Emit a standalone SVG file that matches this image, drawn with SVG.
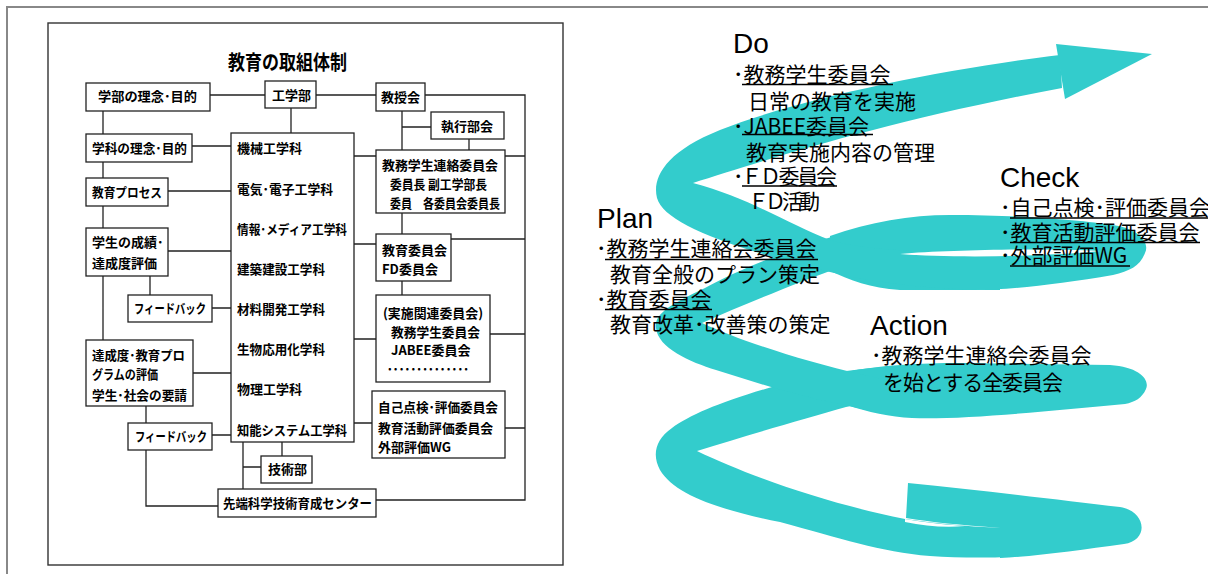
<svg xmlns="http://www.w3.org/2000/svg" width="1208" height="574" viewBox="0 0 1208 574">
<style>
.box{fill:#fff;stroke:#222;stroke-width:1.3}
.ln{fill:none;stroke:#222;stroke-width:1.3}
.t{font-family:"Noto Sans CJK JP","Noto Sans CJK SC",sans-serif;font-weight:700;font-size:13px;fill:#000}
.ti{font-family:"Noto Sans CJK JP","Noto Sans CJK SC",sans-serif;font-weight:700;font-size:20px;fill:#000}
.rt{font-family:"Noto Sans CJK JP","Noto Sans CJK SC",sans-serif;font-size:21px;fill:#000}
.hd{font-family:"Liberation Sans",Arial,sans-serif;font-size:28px;fill:#000}
.sp{fill:#33CCCC}
.ul{stroke:#000;stroke-width:1.7}
</style>
<rect width="1208" height="574" fill="#fff"/>
<path d="M7,574 V7 H1208" fill="none" stroke="#888" stroke-width="2"/>
<rect x="48" y="23" width="515" height="542" fill="none" stroke="#333" stroke-width="1.4"/>

<!-- spiral -->
<g id="spiral">
<path class="sp" d="M980,363 C880,364 820,372 772,387 C720,402 690,415 672,428 C655,440 652,455 660,470 C675,495 720,510 780,522 C840,538 880,552 930,556 C960,558 1000,558 1020,556 L1020,528 C980,528 940,524 905,519 C820,502 745,474 697,451 C745,436 800,420 846,407 C880,400 930,396 980,395 Z"/>
<path class="sp" d="M908,483 C980,490 1060,500 1120,507 C1146,511 1150,540 1124,544 C1080,550 1040,556 1000,558 L1000,528 C960,525 930,522 906,518 Z"/>
<path class="sp" d="M846,372 C880,365 920,363 960,363 L1110,365 C1140,367 1150,380 1146,389 C1142,398 1135,402 1125,404 C1050,411 960,420 912,418 C890,417 868,412 846,405 Z"/>
<path class="sp" d="M900,220 C850,228 760,258 705,288 C668,305 654,315 656,328 C658,348 690,362 716,370 C760,384 805,398 846,405 C870,411 890,418 960,415 L960,390 C880,385 760,350 702,323 C745,304 800,282 830,271 C860,262 880,256 900,255 Z"/>
<path class="sp" d="M830,236 C870,222 910,215 950,215 C1020,215 1080,220 1113,225 C1140,229 1150,243 1145,253 C1140,266 1130,271 1113,275 C1060,284 1010,290 975,290 L900,290 C870,288 850,280 830,271 Z"/>
<path class="sp" d="M1060,55 C950,68 800,98 720,130 C665,152 652,178 657,198 C664,222 720,245 830,272 C870,282 930,290 1000,290 L1000,253 C930,253 860,250 830,240 C790,225 750,198 693,183 C760,162 880,122 1062,88 Z"/>
<path class="sp" d="M1056,44 L1152,54 L1065,99 Z"/>
<path fill="#fff" d="M900,254 C950,250 1040,248 1100,251 C1040,257 950,258 900,254 Z"/>
<path fill="#fff" d="M905,519 C930,523 950,525 965,526 C945,528 925,526 905,522 Z"/>
</g>

<!-- PDCA texts -->
<g id="do">
<text class="hd" x="733" y="53">Do</text>
<text class="rt" x="733" y="82">･教務学生委員会</text>
<line class="ul" x1="742" y1="84.5" x2="893" y2="84.5"/>
<text class="rt" x="748" y="109">日常の教育を実施</text>
<text class="rt" x="733" y="134">･JABEE委員会</text>
<line class="ul" x1="742" y1="134.5" x2="873" y2="134.5"/>
<text class="rt" x="746" y="160">教育実施内容の管理</text>
<text class="rt" x="733" y="184" textLength="104" lengthAdjust="spacing">･ＦＤ委員会</text>
<line class="ul" x1="742" y1="186" x2="837" y2="186"/>
<text class="rt" x="748" y="209" textLength="72" lengthAdjust="spacing">ＦＤ活動</text>
</g>
<g id="plan">
<text class="hd" x="597" y="228">Plan</text>
<text class="rt" x="596" y="256">･教務学生連絡会委員会</text>
<line class="ul" x1="605" y1="259.5" x2="818" y2="259.5"/>
<text class="rt" x="610" y="282">教育全般のプラン策定</text>
<text class="rt" x="596" y="307">･教育委員会</text>
<line class="ul" x1="605" y1="309.5" x2="712" y2="309.5"/>
<text class="rt" x="610" y="332">教育改革･改善策の策定</text>
</g>
<g id="check">
<text class="hd" x="1000" y="187">Check</text>
<text class="rt" x="1000" y="215">･自己点検･評価委員会</text>
<line class="ul" x1="1010" y1="218" x2="1208" y2="218"/>
<text class="rt" x="1000" y="240">･教育活動評価委員会</text>
<line class="ul" x1="1010" y1="242.5" x2="1200" y2="242.5"/>
<text class="rt" x="1000" y="263">･外部評価WG</text>
<line class="ul" x1="1010" y1="266" x2="1130" y2="266"/>
</g>
<g id="action">
<text class="hd" x="870" y="335">Action</text>
<text class="rt" x="871" y="363">･教務学生連絡会委員会</text>
<text class="rt" x="883" y="390" textLength="180" lengthAdjust="spacing">を始とする全委員会</text>
</g>

<!-- org chart -->
<text class="ti" x="228" y="70" textLength="119" lengthAdjust="spacingAndGlyphs">教育の取組体制</text>

<g id="connectors">
<path class="ln" d="M210,95 H265 M316,95 H376 M425,95 H525 V500 H376 M291,108 V133 M103,111 V340 M192,146 H231 M168,191 H231 M168,251 H231 M150,276 V295 M212,308 H231 M193,373 H231 M146,406 V423 M212,435 H231 M146,450 V506 H218 M243,442 V489 M243,467 H261 M282,442 V456 M402,111 V150 M402,127 H431 M469,139 V150 M354,156 H376 M505,156 H525 M402,213 V234 M402,281 V295 M354,244 H376 M451,239 H525 M354,339 H376 M490,334 H525 M354,423 H372 M505,428 H525"/>
</g>

<g id="n-gakubu-rinen"><rect class="box" x="86" y="83" width="124" height="28"/><text class="t" x="98" y="101" textLength="99" lengthAdjust="spacingAndGlyphs">学部の理念･目的</text></g>
<g id="n-kogakubu"><rect class="box" x="265" y="81" width="51" height="27"/><text class="t" x="272" y="100">工学部</text></g>
<g id="n-kyojukai"><rect class="box" x="376" y="83" width="49" height="28"/><text class="t" x="381" y="102">教授会</text></g>
<g id="n-shikko"><rect class="box" x="431" y="112" width="73" height="27"/><text class="t" x="441" y="131">執行部会</text></g>
<g id="n-gakka-rinen"><rect class="box" x="86" y="134" width="106" height="28"/><text class="t" x="92" y="153" textLength="95" lengthAdjust="spacingAndGlyphs">学科の理念･目的</text></g>
<g id="n-process"><rect class="box" x="86" y="178" width="82" height="28"/><text class="t" x="92" y="197" textLength="70" lengthAdjust="spacingAndGlyphs">教育プロセス</text></g>
<g id="n-seiseki"><rect class="box" x="86" y="228" width="82" height="48"/><text class="t" x="92" y="247">学生の成績･</text><text class="t" x="92" y="268">達成度評価</text></g>
<g id="n-fb1"><rect class="box" x="128" y="295" width="84" height="27"/><text class="t" x="134" y="313" textLength="72" lengthAdjust="spacingAndGlyphs">フィードバック</text></g>
<g id="n-tassei"><rect class="box" x="86" y="340" width="107" height="66"/><text class="t" x="92" y="360" textLength="93" lengthAdjust="spacingAndGlyphs">達成度･教育プロ</text><text class="t" x="92" y="379" textLength="66" lengthAdjust="spacingAndGlyphs">グラムの評価</text><text class="t" x="92" y="400" textLength="95" lengthAdjust="spacingAndGlyphs">学生･社会の要請</text></g>
<g id="n-fb2"><rect class="box" x="128" y="423" width="84" height="27"/><text class="t" x="135" y="441" textLength="72" lengthAdjust="spacingAndGlyphs">フィードバック</text></g>
<g id="n-gijutsu"><rect class="box" x="261" y="456" width="51" height="27"/><text class="t" x="268" y="474">技術部</text></g>
<g id="n-sentan"><rect class="box" x="218" y="489" width="158" height="28"/><text class="t" x="223" y="508" textLength="149" lengthAdjust="spacingAndGlyphs">先端科学技術育成センター</text></g>
<g id="n-gakka"><rect class="box" x="231" y="133" width="123" height="309"/>
<text class="t" x="237" y="153">機械工学科</text>
<text class="t" x="237" y="194" textLength="96" lengthAdjust="spacingAndGlyphs">電気･電子工学科</text>
<text class="t" x="237" y="234" textLength="110" lengthAdjust="spacingAndGlyphs">情報･メディア工学科</text>
<text class="t" x="237" y="274" textLength="88" lengthAdjust="spacingAndGlyphs">建築建設工学科</text>
<text class="t" x="237" y="314" textLength="88" lengthAdjust="spacingAndGlyphs">材料開発工学科</text>
<text class="t" x="237" y="354" textLength="88" lengthAdjust="spacingAndGlyphs">生物応用化学科</text>
<text class="t" x="237" y="394">物理工学科</text>
<text class="t" x="237" y="435" textLength="110" lengthAdjust="spacingAndGlyphs">知能システム工学科</text>
</g>
<g id="n-renraku"><rect class="box" x="376" y="150" width="129" height="63"/>
<text class="t" x="382" y="170" textLength="116" lengthAdjust="spacingAndGlyphs">教務学生連絡委員会</text>
<text class="t" x="390" y="189" textLength="97" lengthAdjust="spacingAndGlyphs">委員長 副工学部長</text>
<text class="t" x="390" y="208" textLength="110" lengthAdjust="spacingAndGlyphs">委員　各委員会委員長</text>
</g>
<g id="n-kyoiku"><rect class="box" x="376" y="234" width="75" height="47"/>
<text class="t" x="382" y="255">教育委員会</text>
<text class="t" x="382" y="274">FD委員会</text>
</g>
<g id="n-jisshi"><rect class="box" x="376" y="295" width="114" height="87"/>
<text class="t" x="383" y="318" textLength="100" lengthAdjust="spacingAndGlyphs">(実施関連委員会)</text>
<text class="t" x="391" y="337" textLength="89" lengthAdjust="spacingAndGlyphs">教務学生委員会</text>
<text class="t" x="391" y="355">JABEE委員会</text>
<text class="t" x="386" y="374" textLength="84" lengthAdjust="spacing">··············</text>
</g>
<g id="n-hyoka"><rect class="box" x="372" y="391" width="133" height="67"/>
<text class="t" x="378" y="412" textLength="120" lengthAdjust="spacingAndGlyphs">自己点検･評価委員会</text>
<text class="t" x="378" y="433" textLength="115" lengthAdjust="spacingAndGlyphs">教育活動評価委員会</text>
<text class="t" x="378" y="452">外部評価WG</text>
</g>
</svg>
